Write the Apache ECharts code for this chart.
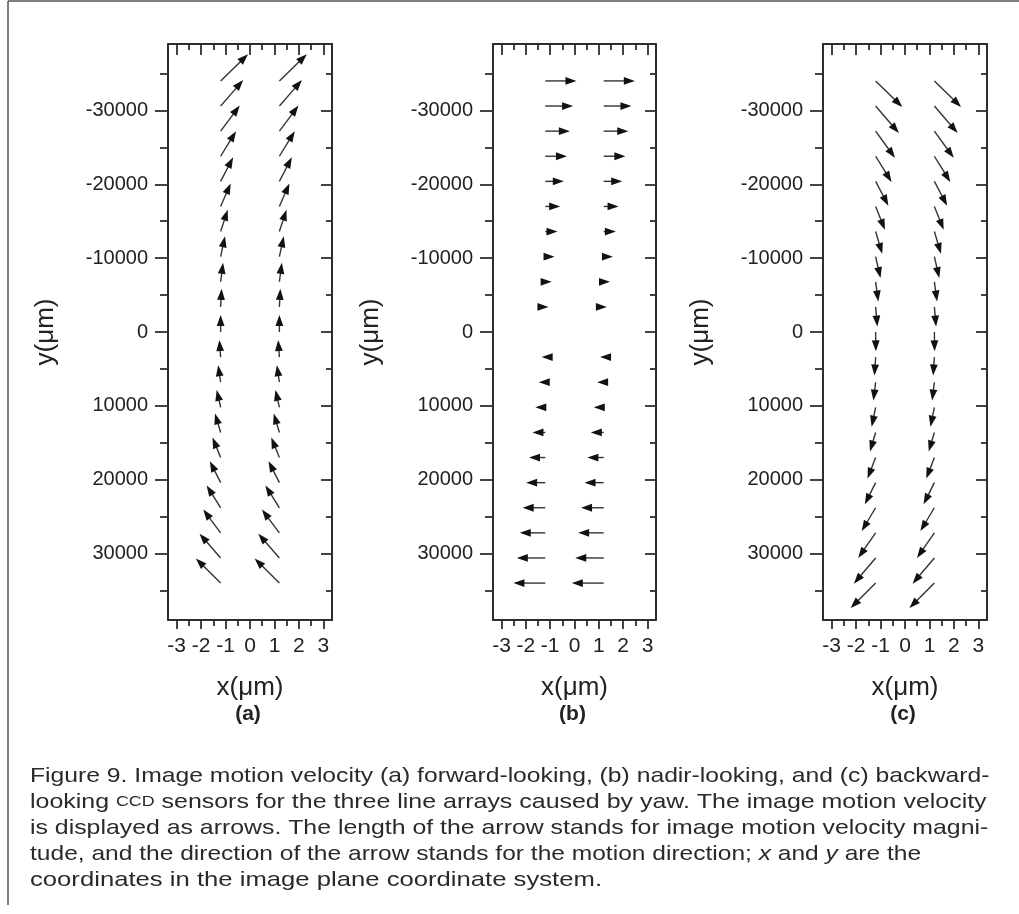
<!DOCTYPE html>
<html>
<head>
<meta charset="utf-8">
<script src="https://cdn.jsdelivr.net/npm/echarts@6.0.0/dist/echarts.min.js"></script>
<style>
html, body { margin: 0; padding: 0; background: #fff; }
#chart { width: 1019px; height: 914px; }
</style>
</head>
<body>
<div id="chart"></div>
<script>
var dom = document.getElementById('chart');
var myChart = echarts.init(dom, null, { renderer: 'canvas' });

// row positions of the arrows (um), (b) has no row at 0
var rowsY = [-34000, -30600, -27200, -23800, -20400, -17000, -13600, -10200, -6800, -3400, 0,
    3400, 6800, 10200, 13600, 17000, 20400, 23800, 27200, 30600, 34000];
var rowsNadir = [-34000, -30600, -27200, -23800, -20400, -17000, -13600, -10200, -6800, -3400,
    3400, 6800, 10200, 13600, 17000, 20400, 23800, 27200, 30600, 34000];
var columnsX = [-1.2, 1.2];

// vector components: u along x (um), v along y (um)
var forwardU = [1.12, 0.92, 0.78, 0.63, 0.51, 0.41, 0.29, 0.18, 0.10, 0.04, 0,
    -0.05, -0.10, -0.16, -0.23, -0.33, -0.44, -0.57, -0.71, -0.86, -1.01];
var forwardV = [-3620, -3520, -3460, -3390, -3250, -3120, -2940, -2750, -2570, -2440, -2300,
    -2300, -2300, -2360, -2570, -2710, -2910, -3020, -3160, -3290, -3320];
var nadirU = [1.28, 1.14, 1.01, 0.89, 0.76, 0.61, 0.50, 0.38, 0.26, 0.13,
    -0.15, -0.27, -0.41, -0.53, -0.67, -0.79, -0.93, -1.05, -1.17, -1.31];
var backwardU = [1.09, 0.95, 0.79, 0.65, 0.52, 0.38, 0.27, 0.20, 0.11, 0.07, 0.01,
    -0.05, -0.09, -0.16, -0.23, -0.33, -0.44, -0.57, -0.71, -0.89, -1.02];
var backwardV = [3520, 3660, 3620, 3480, 3290, 3160, 3020, 2890, 2670, 2670, 2620,
    2480, 2480, 2620, 2570, 2850, 2940, 3160, 3390, 3480, 3390];

var xMajor = [-3, -2, -1, 0, 1, 2, 3];
var xMinor = [-2.5, -1.5, -0.5, 0.5, 1.5, 2.5];
var yMajor = [-30000, -20000, -10000, 0, 10000, 20000, 30000];
var yMinor = [-35000, -25000, -15000, -5000, 5000, 15000, 25000, 35000];
var panelLabels = ['(a)', '(b)', '(c)'];

var captionLines = [
    'Figure 9. Image motion velocity (a) forward-looking, (b) nadir-looking, and (c) backward-',
    'looking {sc|CCD} sensors for the three line arrays caused by yaw. The image motion velocity',
    'is displayed as arrows. The length of the arrow stands for image motion velocity magni-',
    'tude, and the direction of the arrow stands for the motion direction; {i|x} and {i|y} are the',
    'coordinates in the image plane coordinate system.'
];
// horizontal stretch of each caption line (first three are justified)
var captionStretch = [1.176, 1.188, 1.183, 1.169, 1.222];

var font = 'Liberation Sans, Arial, sans-serif';
var ink = '#222';
var grids = [
    { left: 168, top: 44, width: 164, height: 576 },
    { left: 493, top: 44, width: 163, height: 576 },
    { left: 823, top: 44, width: 164, height: 576 }
];

function buildVectors(ys, u, v) {
    var out = [];
    columnsX.forEach(function (x) {
        ys.forEach(function (y, i) {
            out.push([x, y, u[i], v ? v[i] : 0]);
        });
    });
    return out;
}

var renderArrow = function (params, api) {
    var x0 = api.value(0), y0 = api.value(1);
    var p0 = api.coord([x0, y0]);
    var p1 = api.coord([x0 + api.value(2), y0 + api.value(3)]);
    var dx = p1[0] - p0[0], dy = p1[1] - p0[1];
    var len = Math.sqrt(dx * dx + dy * dy) || 1;
    var ux = dx / len, uy = dy / len;
    var hl = 11, hw = 3.9;
    var bx = p1[0] - ux * hl, by = p1[1] - uy * hl;
    var children = [];
    if (len > hl) {
        children.push({
            type: 'line',
            shape: { x1: p0[0], y1: p0[1], x2: bx + ux, y2: by + uy },
            style: { stroke: '#333', lineWidth: 1.4 }
        });
    }
    children.push({
        type: 'polygon',
        shape: { points: [[p1[0], p1[1]], [bx - uy * hw, by + ux * hw], [bx + uy * hw, by - ux * hw]] },
        style: { fill: '#111' }
    });
    return { type: 'group', children: children };
};

function valueAxis(gi, pos, min, max, lineShow, ticks, len, inside) {
    return {
        type: 'value', gridIndex: gi, position: pos, min: min, max: max,
        splitLine: { show: false },
        axisLine: { show: lineShow, onZero: false, lineStyle: { color: '#2e2e2e', width: 2 } },
        axisTick: { show: true, customValues: ticks, length: len, inside: inside,
            lineStyle: { color: '#2e2e2e', width: 1.8 } },
        axisLabel: { show: false },
        silent: true
    };
}

var xAxes = [], yAxes = [], series = [];
var vectorSets = [
    buildVectors(rowsY, forwardU, forwardV),
    buildVectors(rowsNadir, nadirU, null),
    buildVectors(rowsY, backwardU, backwardV)
];

grids.forEach(function (g, gi) {
    var xb = valueAxis(gi, 'bottom', -3.35, 3.35, true, xMajor, 9, false);
    xb.axisLabel = { show: true, customValues: xMajor, fontSize: 21, fontFamily: font, color: ink, margin: 16,
        formatter: function (v) { return String(v); } };
    xb.name = 'x(\u03bcm)';
    xb.nameLocation = 'middle';
    xb.nameGap = 68;
    xb.nameTextStyle = { fontSize: 26, fontFamily: font, color: ink, verticalAlign: 'middle' };
    xAxes.push(xb);
    xAxes.push(valueAxis(gi, 'bottom', -3.35, 3.35, false, xMinor, 6, false));
    xAxes.push(valueAxis(gi, 'top', -3.35, 3.35, true, xMajor, 11, true));
    xAxes.push(valueAxis(gi, 'top', -3.35, 3.35, false, xMinor, 6, true));

    var yl = valueAxis(gi, 'left', -39000, 39000, true, yMajor, 13, false);
    yl.inverse = true;
    yl.axisLabel = { show: true, customValues: yMajor, fontSize: 20, fontFamily: font, color: ink, margin: 20,
        formatter: function (v) { return String(v); } };
    yl.name = 'y(\u03bcm)';
    yl.nameLocation = 'middle';
    yl.nameGap = 122;
    yl.nameRotate = 90;
    yl.nameTextStyle = { fontSize: 26, fontFamily: font, color: ink, verticalAlign: 'middle' };
    yAxes.push(yl);
    var others = [
        valueAxis(gi, 'left', -39000, 39000, false, yMinor, 8, false),
        valueAxis(gi, 'right', -39000, 39000, true, yMajor, 11, true),
        valueAxis(gi, 'right', -39000, 39000, false, yMinor, 6, true)
    ];
    others.forEach(function (a) { a.inverse = true; yAxes.push(a); });

    series.push({
        type: 'custom',
        coordinateSystem: 'cartesian2d',
        xAxisIndex: gi * 4,
        yAxisIndex: gi * 4,
        encode: { x: 0, y: 1 },
        renderItem: renderArrow,
        data: vectorSets[gi],
        silent: true,
        z: 5
    });
});

var graphics = [
    { type: 'line', shape: { x1: 8, y1: 1, x2: 1019, y2: 1 }, style: { stroke: '#555', lineWidth: 1.5 } },
    { type: 'line', shape: { x1: 8, y1: 1, x2: 8, y2: 905 }, style: { stroke: '#555', lineWidth: 1.5 } }
];
grids.forEach(function (g, gi) {
    graphics.push({
        type: 'text',
        x: g.left + g.width / 2 - 2, y: 714,
        style: { text: panelLabels[gi], fontSize: 21, fontWeight: 'bold', fontFamily: font, fill: ink,
            align: 'center', verticalAlign: 'middle' }
    });
});
captionLines.forEach(function (line, i) {
    graphics.push({
        type: 'text',
        x: 30, y: 776 + i * 26,
        scaleX: captionStretch[i],
        style: {
            text: line, fontSize: 21, fontFamily: font, fill: '#2a2a2a',
            align: 'left', verticalAlign: 'middle',
            rich: {
                i: { fontSize: 21, fontFamily: font, fontStyle: 'italic', fill: '#2a2a2a' },
                sc: { fontSize: 15, fontFamily: font, fill: '#2a2a2a' }
            }
        }
    });
});

var option = {
    animation: false,
    backgroundColor: '#fff',
    grid: grids,
    xAxis: xAxes,
    yAxis: yAxes,
    series: series,
    graphic: graphics
};

myChart.setOption(option);
</script>
</body>
</html>
